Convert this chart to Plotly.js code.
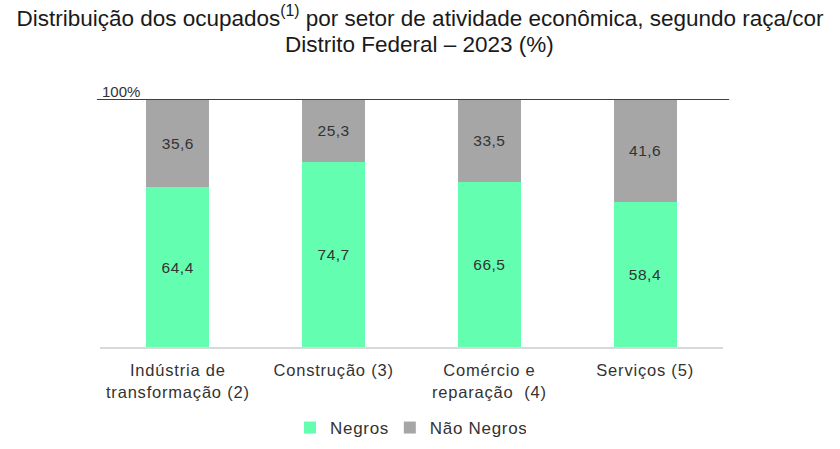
<!DOCTYPE html>
<html><head><meta charset="utf-8">
<script src="https://cdn.plot.ly/plotly-3.0.1.min.js"></script>
<style>
html,body{margin:0;padding:0;background:#fff}#chart{width:840px;height:449px}
#chart .xtick text{letter-spacing:0.8px}
#chart .legendtext{letter-spacing:0.7px}
#chart .bartext{letter-spacing:0.5px}
</style>
</head><body><div id="chart"></div>
<script>
const categories = ["Indústria de<br>transformação (2)", "Construção (3)", "Comércio e<br>reparação  (4)", "Serviços (5)"];
const negros = [64.4, 74.7, 66.5, 58.4];
const naoNegros = [35.6, 25.3, 33.5, 41.6];
const titleLine1 = 'Distribuição dos ocupados<sup>(1)</sup> por setor de atividade econômica, segundo raça/cor';
const titleLine2 = 'Distrito Federal – 2023 (%)';
const fmt = v => v.toFixed(1).replace('.', ',');

const common = {type:'bar', x:categories, width:0.405, textposition:'inside', insidetextanchor:'middle',
  textfont:{family:'Liberation Sans, Arial, sans-serif', size:15.5, color:'#333333'}, hoverinfo:'skip', cliponaxis:false};
const data = [
  Object.assign({}, common, {name:'Negros', y:negros, text:negros.map(fmt), marker:{color:'#64FEB1'}}),
  Object.assign({}, common, {name:'Não Negros', y:naoNegros, text:naoNegros.map(fmt), marker:{color:'#A6A6A6'}})
];
const titleFont = {size:22.5, color:'#1a1a1a', family:'Liberation Sans, Arial, sans-serif'};
const layout = {
  width:840, height:449, barmode:'stack', showlegend:true,
  paper_bgcolor:'#fff', plot_bgcolor:'#fff',
  margin:{l:100, r:117, t:99, b:102, autoexpand:false},
  font:{family:'Liberation Sans, Arial, sans-serif', color:'#333'},
  title:{text:titleLine1, x:0.5, xanchor:'center', xref:'container', y:1-18/449, yanchor:'middle', yref:'container', font:titleFont},
  xaxis:{showgrid:false, zeroline:false, showline:true, linecolor:'#d9d9d9', linewidth:1.5, ticks:'',
    ticklabelstandoff:8, automargin:false,
    tickfont:{size:16.5, color:'#333'}, fixedrange:true},
  yaxis:{range:[0,100], showgrid:false, zeroline:false, showticklabels:false, showline:false, fixedrange:true, automargin:false},
  legend:{orientation:'h', x:408/840, xanchor:'center', xref:'container', y:(449-428)/449, yanchor:'middle', yref:'container',
    font:{size:17, color:'#333'}, itemwidth:30, traceorder:'normal'},
  shapes:[{type:'line', xref:'paper', yref:'y', x0:-0.005, x1:1.01, y0:100, y1:100, line:{color:'#404040', width:2}}],
  annotations:[
    {text:'100%', xref:'paper', yref:'y', x:0, y:100, xanchor:'left', yanchor:'bottom', showarrow:false,
      font:{size:15, color:'#333'}, yshift:-3},
    {text:titleLine2, xref:'paper', yref:'paper', x:(420-100)/623, y:1+(99-44)/248, xanchor:'center', yanchor:'middle',
      showarrow:false, font:titleFont}
  ]
};
Plotly.newPlot('chart', data, layout, {displayModeBar:false, staticPlot:true});
</script></body></html>
